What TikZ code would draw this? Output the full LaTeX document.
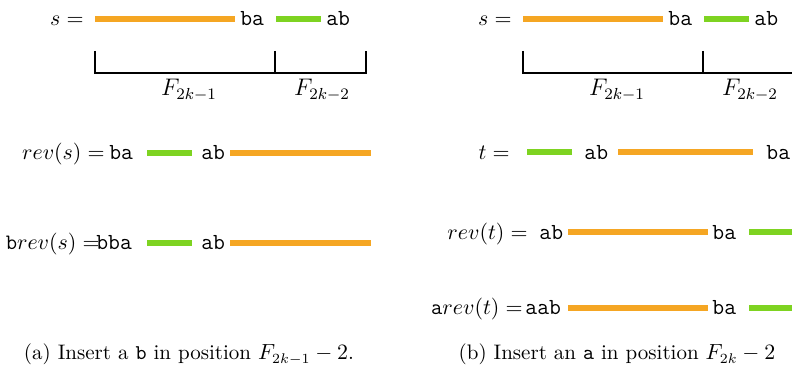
\documentclass[tikz,border=0pt]{standalone}
\definecolor{barorange}{RGB}{245,166,35}
\definecolor{bargreen}{RGB}{126,211,33}
\newcommand{\strandbar}[4]{\draw[#1,line width=3pt] (#2,#4)--(#3,#4);}
\tikzset{
  txt/.style={inner sep=0pt,anchor=base west,font=\fontsize{11.5}{14}\selectfont\ttfamily},
  eqn/.style={inner sep=0pt,anchor=base east,font=\fontsize{11}{14}\selectfont},
  sublbl/.style={inner sep=0pt,anchor=base,font=\fontsize{11.5}{14}\selectfont},
  captxt/.style={inner sep=0pt,anchor=base,font=\fontsize{10.5}{13}\selectfont}
}
\begin{document}
\begin{tikzpicture}[x=0.5pt,y=-0.5pt]
\useasboundingbox (0,0) rectangle (792,367);
\clip (0,0) rectangle (792,367);
\begin{scope}[shift={(0,0)}]
\node[eqn] (sL) at (84,26) {$s=$};
\strandbar{barorange}{95}{235}{19}
\node[txt] (baL) at (240,26) {ba};
\strandbar{bargreen}{276}{321}{19}
\node[txt] (abL) at (326,26) {ab};
\draw[line width=0.8pt] (95,51)--(95,73)--(366,73)--(366,51);
\draw[line width=0.8pt] (275,51)--(275,73);
\node[sublbl] (fAL) at (189,96) {$F_{2k-1}$};
\node[sublbl] (fBL) at (322,96) {$F_{2k-2}$};
\end{scope}
\begin{scope}[shift={(428,0)}]
\node[eqn] (sR) at (84,26) {$s=$};
\strandbar{barorange}{95}{235}{19}
\node[txt] (baR) at (240,26) {ba};
\strandbar{bargreen}{276}{321}{19}
\node[txt] (abR) at (326,26) {ab};
\draw[line width=0.8pt] (95,51)--(95,73)--(366,73)--(366,51);
\draw[line width=0.8pt] (275,51)--(275,73);
\node[sublbl] (fAR) at (189,96) {$F_{2k-1}$};
\node[sublbl] (fBR) at (322,96) {$F_{2k-2}$};
\end{scope}
\node[eqn] (revs) at (105,160) {$rev(s) =$};
\node[txt] (revsba) at (109,160) {ba};
\strandbar{bargreen}{147}{192}{153}
\node[txt] (revsab) at (201,160) {ab};
\strandbar{barorange}{230}{371}{153}
\node[eqn] (brevs) at (100,250) {\texttt{b}$rev(s) =$};
\node[txt] (brevsbba) at (96,250) {bba};
\strandbar{bargreen}{147}{192}{243}
\node[txt] (brevsab) at (201,250) {ab};
\strandbar{barorange}{230}{371}{243}
\node[captxt] (capA) at (189,360) {(a) Insert a \texttt{b} in position $F_{2k-1}-2$.};
\node[eqn] (tR) at (510,160) {$t =$};
\strandbar{bargreen}{527}{572}{152}
\node[txt] (tab) at (584,160) {ab};
\strandbar{barorange}{618}{753}{152}
\node[txt] (tba) at (766,160) {ba};
\node[eqn] (revt) at (528,240) {$rev(t) =$};
\node[txt] (revtab) at (539,240) {ab};
\strandbar{barorange}{568}{708}{232}
\node[txt] (revtba) at (712,240) {ba};
\strandbar{bargreen}{749}{800}{232}
\node[eqn] (arevt) at (523,315) {\texttt{a}$rev(t) =$};
\node[txt] (arevtaab) at (525,315) {aab};
\strandbar{barorange}{568}{708}{308}
\node[txt] (arevtba) at (712,315) {ba};
\strandbar{bargreen}{749}{800}{308}
\node[captxt] (capB) at (617,360) {(b) Insert an \texttt{a} in position $F_{2k}-2$};
\end{tikzpicture}
\end{document}
